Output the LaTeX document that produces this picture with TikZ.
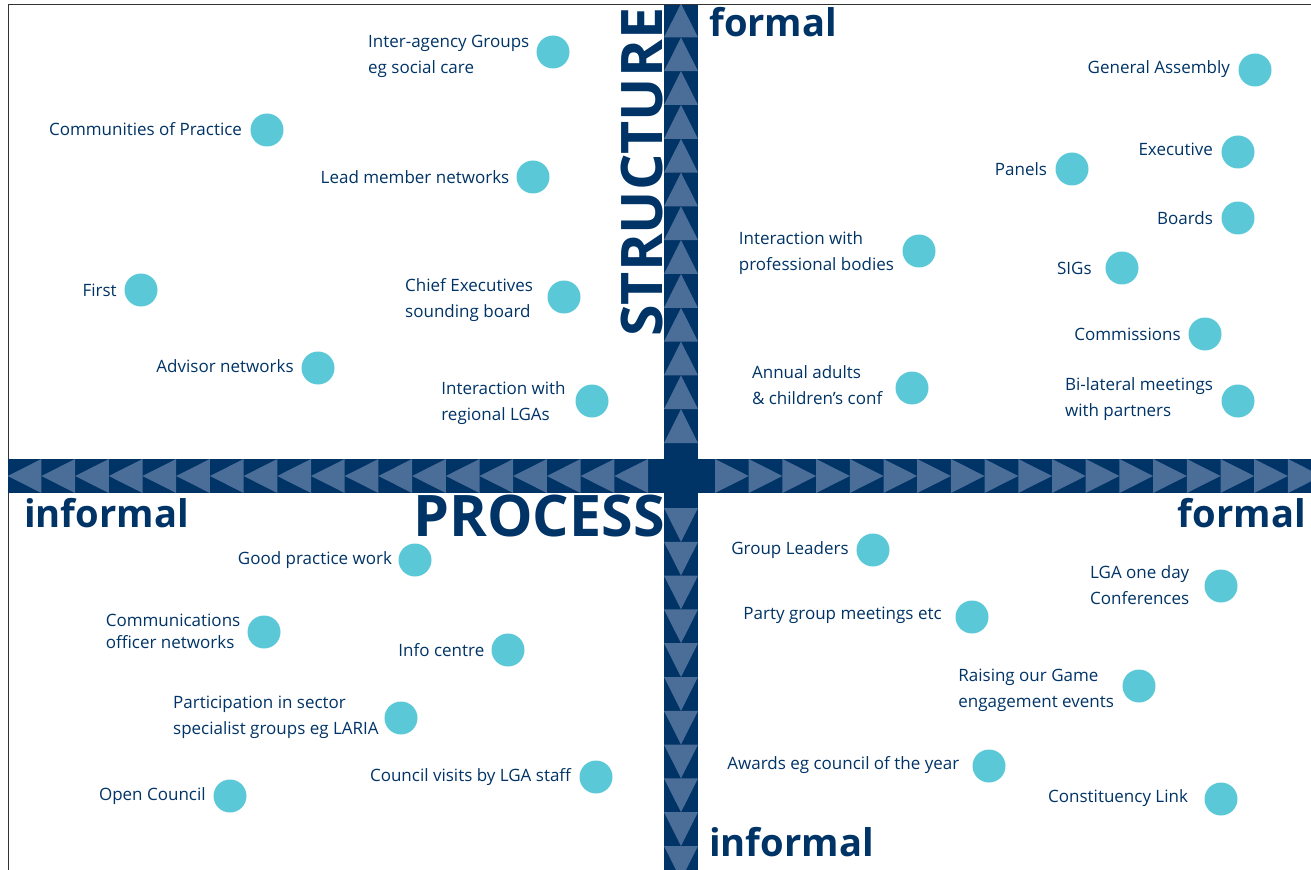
\documentclass[tikz,border=0pt]{standalone}
\usepackage{fontspec}
\setmainfont{Open Sans}
\usetikzlibrary{positioning}
\definecolor{navy}{RGB}{0,51,102}
\definecolor{steel}{RGB}{75,110,152}
\definecolor{aqua}{RGB}{91,200,216}
\tikzset{
	dot/.style={circle, fill=aqua, inner sep=0pt, minimum size=24.75pt},
	lbl/.style={text=navy, inner sep=0pt, align=left, font=\fontsize{12.75}{19.5}\selectfont},
	big/.style={text=navy, inner sep=0pt, font=\fontsize{28.6}{30}\selectfont\bfseries},
	huge/.style={text=navy, inner sep=0pt, font=\fontsize{43}{46}\selectfont\bfseries},
	tri/.style={fill=steel}
}

\begin{document}
\begin{tikzpicture}[x=0.75pt, y=-0.75pt]
		%%%%% START %%%%%
		\useasboundingbox (0,0) rectangle (1311,870);
		
		\draw[line width=0.75pt, color=black!80] (8,870) -- (8,5) -- (1311,5);
		
		% the two bars with their arrow heads
		\begin{scope}
			\clip (8,5) rectangle (1311,870);
			\fill[navy] (664,5) rectangle (698,870);
			\fill[navy] (8,459) rectangle (1311,493);
			\foreach \i in {0,...,12}
				\fill[tri] (664,{443-\i*33.8}) -- (698,{443-\i*33.8}) -- (681,{443-(\i+1)*33.8}) -- cycle;
			\foreach \i in {0,...,10}
				\fill[tri] (664,{508+\i*33.8}) -- (698,{508+\i*33.8}) -- (681,{508+(\i+1)*33.8}) -- cycle;
			\foreach \i in {0,...,18}
				\fill[tri] ({648-\i*33.7},459) -- ({648-\i*33.7},493) -- ({648-(\i+1)*33.7},476) -- cycle;
			\foreach \i in {0,...,17}
				\fill[tri] ({715+\i*33.7},459) -- ({715+\i*33.7},493) -- ({715+(\i+1)*33.7},476) -- cycle;
		\end{scope}
		
		% axis words
		\node[huge, rotate=90, anchor=base west] (structure) at (662,337) {STRUCTURE};
		\node[huge, anchor=base east] (process) at (665,536) {PROCESS};
		\node[big, anchor=base west] (top) at (709,37) {formal};
		\node[big, anchor=base west] (bottom) at (709,856) {informal};
		\node[big, anchor=base west] (left) at (24,527) {informal};
		\node[big, anchor=base east] (right) at (1306,527) {formal};
		
		% top left
		\node[dot] (interagency) at (553,52) {};
		\node[lbl, left=5pt of interagency, yshift=-3pt] (interagency-t) {Inter-agency Groups\\eg social care};
		\node[dot] (practice) at (267,130) {};
		\node[lbl, left=6pt of practice, yshift=1pt] (practice-t) {Communities of Practice};
		\node[dot] (leadmember) at (533,177) {};
		\node[lbl, left=5pt of leadmember] (leadmember-t) {Lead member networks};
		\node[dot] (first) at (141,290) {};
		\node[lbl, left=5.5pt of first] (first-t) {First};
		\node[dot] (chiefexec) at (564,297) {};
		\node[lbl, left=10.5pt of chiefexec, yshift=-2pt] (chiefexec-t) {Chief Executives\\sounding board};
		\node[dot] (advisor) at (318,368) {};
		\node[lbl, left=5.5pt of advisor, yshift=1.5pt] (advisor-t) {Advisor networks};
		\node[dot] (regional) at (592,401) {};
		\node[lbl, left=7pt of regional, yshift=-1.5pt] (regional-t) {Interaction with\\regional LGAs};
		
		% top right
		\node[dot] (assembly) at (1255,70) {};
		\node[lbl, left=6pt of assembly, yshift=1pt] (assembly-t) {General Assembly};
		\node[dot] (executive) at (1238,152) {};
		\node[lbl, left=6pt of executive, yshift=2pt] (executive-t) {Executive};
		\node[dot] (panels) at (1072,169) {};
		\node[lbl, left=6pt of panels] (panels-t) {Panels};
		\node[dot] (boards) at (1238,218) {};
		\node[lbl, left=6pt of boards] (boards-t) {Boards};
		\node[dot] (professional) at (919,251) {};
		\node[lbl, left=6pt of professional, yshift=-1.5pt] (professional-t) {Interaction with\\professional bodies};
		\node[dot] (sigs) at (1122,268) {};
		\node[lbl, left=10pt of sigs] (sigs-t) {SIGs};
		\node[dot] (commissions) at (1205,334) {};
		\node[lbl, left=5.5pt of commissions] (commissions-t) {Commissions};
		\node[dot] (annual) at (912,388) {};
		\node[lbl, left=9.5pt of annual, yshift=2.5pt] (annual-t) {Annual adults\\\& children’s conf};
		\node[dot] (bilateral) at (1238,401) {};
		\node[lbl, left=6pt of bilateral, yshift=1.5pt] (bilateral-t) {Bi-lateral meetings\\with partners};
		
		% bottom left
		\node[dot] (goodpractice) at (415,560) {};
		\node[lbl, left=4.5pt of goodpractice] (goodpractice-t) {Good practice work};
		\node[dot] (comms) at (264,632) {};
		\node[lbl, left=5pt of comms, yshift=0.5pt] (comms-t) {Communications\\[-3pt]officer networks};
		\node[dot] (info) at (508,650) {};
		\node[lbl, left=5pt of info] (info-t) {Info centre};
		\node[dot] (sector) at (401,718) {};
		\node[lbl, left=4pt of sector, yshift=0.5pt] (sector-t) {Participation in sector\\specialist groups eg LARIA};
		\node[dot] (visits) at (596,777) {};
		\node[lbl, left=6pt of visits] (visits-t) {Council visits by LGA staff};
		\node[dot] (open) at (230,796) {};
		\node[lbl, left=5.5pt of open] (open-t) {Open Council};
		
		% bottom right
		\node[dot] (leaders) at (873,550) {};
		\node[lbl, left=5.5pt of leaders] (leaders-t) {Group Leaders};
		\node[dot] (oneday) at (1221,586) {};
		\node[lbl, left=11pt of oneday, yshift=0.5pt] (oneday-t) {LGA one day\\Conferences};
		\node[dot] (party) at (972,617) {};
		\node[lbl, left=10pt of party, yshift=1pt] (party-t) {Party group meetings etc};
		\node[dot] (raising) at (1139,686) {};
		\node[lbl, left=6pt of raising, yshift=-3pt] (raising-t) {Raising our Game\\engagement events};
		\node[dot] (awards) at (989,766) {};
		\node[lbl, left=9.5pt of awards, yshift=1pt] (awards-t) {Awards eg council of the year};
		\node[dot] (constituency) at (1221,799) {};
		\node[lbl, left=12pt of constituency, yshift=1pt] (constituency-t) {Constituency Link};
		
		%%%%% END %%%%%
\end{tikzpicture}
\end{document}
